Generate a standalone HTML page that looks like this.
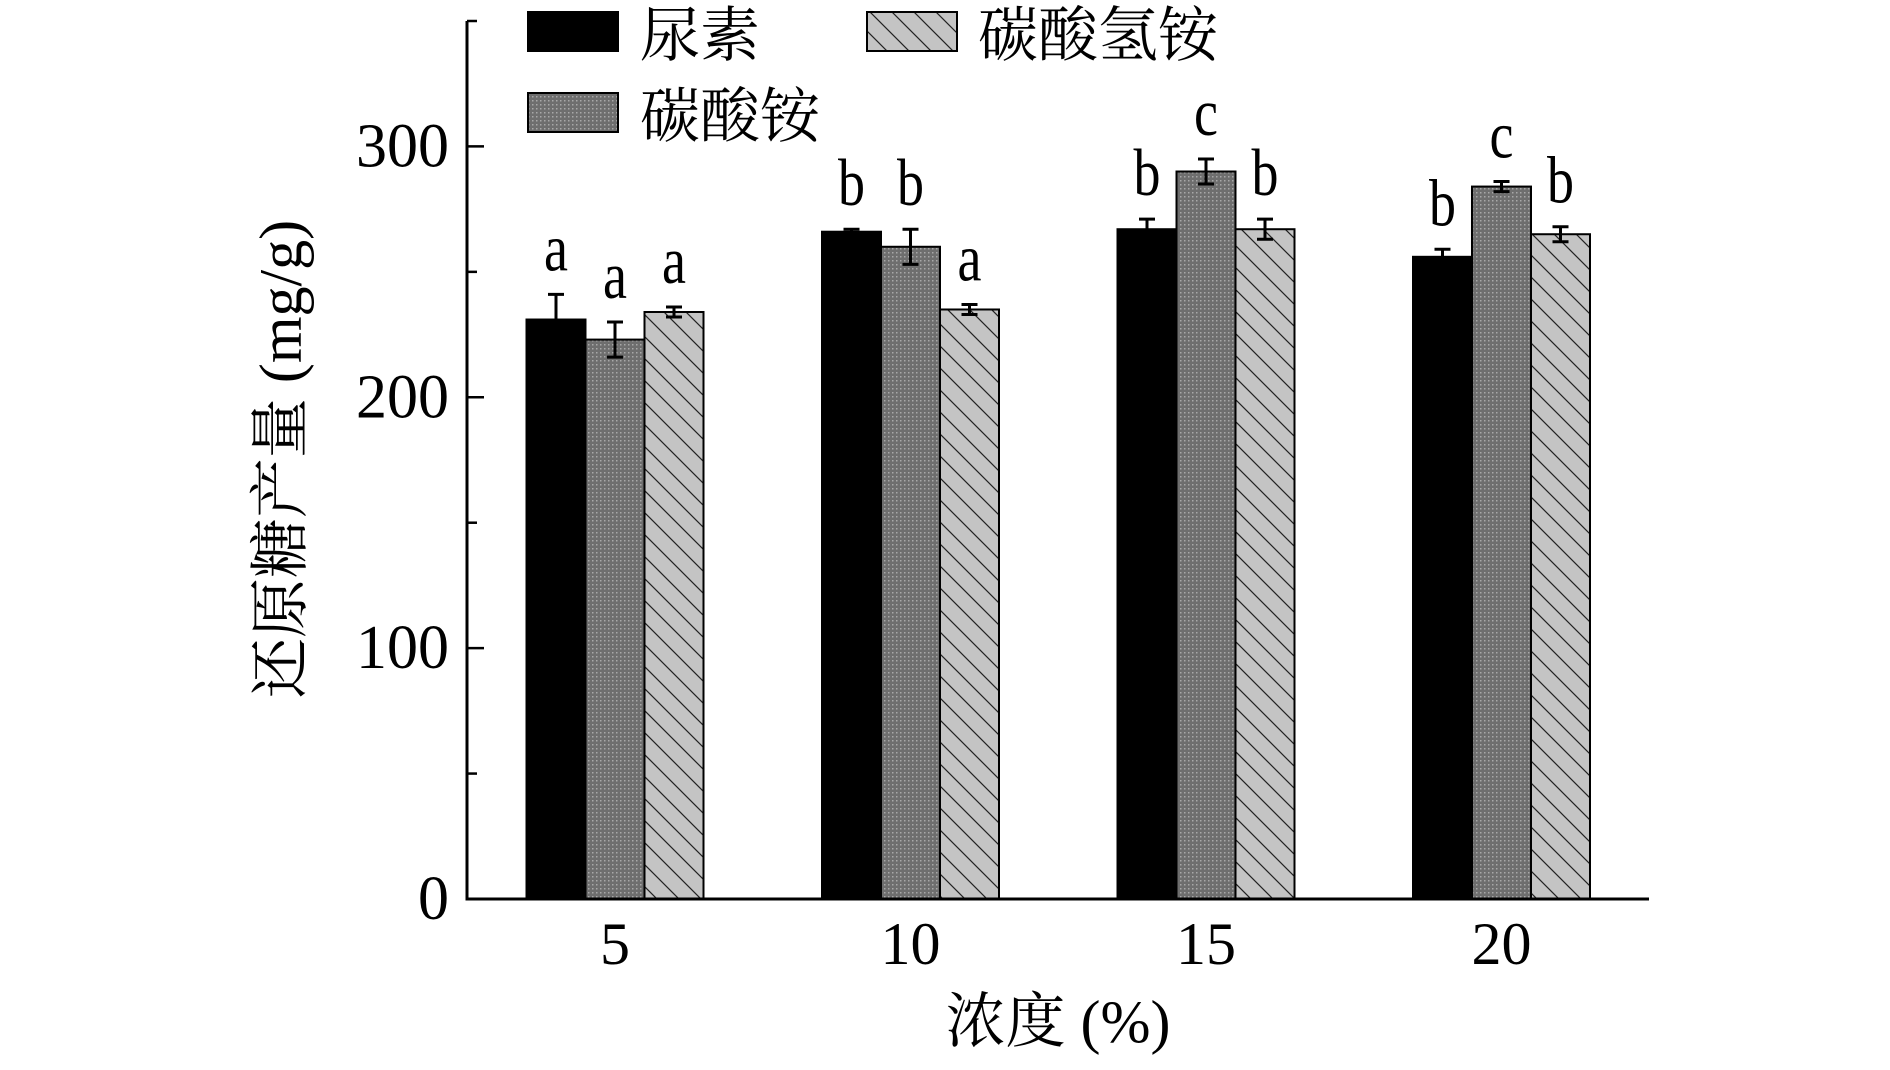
<!DOCTYPE html>
<html><head><meta charset="utf-8"><style>
html,body{margin:0;padding:0;background:#fff}
svg text{font-family:"Liberation Serif","Noto Serif CJK SC",serif;fill:#000}
</style></head><body>
<svg id="chart" width="1890" height="1065" viewBox="0 0 1890 1065" xmlns="http://www.w3.org/2000/svg">
<defs>
<pattern id="dots" width="4" height="4" patternUnits="userSpaceOnUse"><rect width="4" height="4" fill="#6e6e6e"/><rect x="0" y="0" width="1.5" height="1.5" fill="#a8a8a8"/></pattern>
<pattern id="hatch" width="22" height="22" patternUnits="userSpaceOnUse"><rect width="22" height="22" fill="#c4c4c4"/><path d="M0,0 L22,22 M-11,11 L11,33 M11,-11 L33,11" stroke="#222" stroke-width="1.2"/></pattern>
</defs>
<g id="plot"></g>
</svg>
<script>
const categories = ["5","10","15","20"];
const seriesNames = ["尿素","碳酸铵","碳酸氢铵"];
const urea = [231,266,267,256];
const ammCarb = [223,260,290,284];
const ammBicarb = [234,235,267,265];
const ureaErr = [10,1,4,3];
const ammCarbErr = [7,7,5,2];
const ammBicarbErr = [2,2,4,3];
const ureaLetters = ["a","b","b","b"];
const ammCarbLetters = ["a","b","c","c"];
const ammBicarbLetters = ["a","a","b","b"];
const yTicks = [0,100,200,300];

const NS="http://www.w3.org/2000/svg";
const g=document.getElementById('plot');
const X0=467, X1=1649, Y0=899, YMAX=350, YTOP=21;
const y=v=>Y0-(v/YMAX)*(Y0-YTOP);
const groupCenter=i=>615+i*295.5;
const BW=59;
function mk(tag,attrs){const e=document.createElementNS(NS,tag);for(const k in attrs)e.setAttribute(k,attrs[k]);g.appendChild(e);return e;}

const series=[
 {vals:urea,err:ureaErr,let:ureaLetters,fill:"#000",name:"urea"},
 {vals:ammCarb,err:ammCarbErr,let:ammCarbLetters,fill:"url(#dots)",name:"ammonium-carbonate"},
 {vals:ammBicarb,err:ammBicarbErr,let:ammBicarbLetters,fill:"url(#hatch)",name:"ammonium-bicarbonate"}
];
series.forEach((s,si)=>{
 categories.forEach((c,ci)=>{
  const x=groupCenter(ci)+(si-1.5)*BW;
  const v=s.vals[ci], e=s.err[ci];
  const r=mk('rect',{x:x,y:y(v),width:BW,height:Y0-y(v),fill:s.fill,stroke:"#000","stroke-width":2});
  
  
  const cx=x+BW/2;
  const eb=mk('path',{d:`M${cx},${y(v+e)}V${y(v-e)}M${cx-8},${y(v+e)}H${cx+8}M${cx-8},${y(v-e)}H${cx+8}`,stroke:"#000","stroke-width":3,fill:"none"});
  
  
  const t=mk('text',{x:cx,y:y(v+e)-24,"text-anchor":"middle","font-size":60,transform:`translate(${cx},0) scale(0.9,1.1) translate(${-cx},0)`});
  t.setAttribute('transform',`translate(${cx},${y(v+e)-24}) scale(0.9,1.12) translate(${-cx},${-(y(v+e)-24)})`);
  t.textContent=s.let[ci];
  
  
 });
});
const ya=mk('line',{x1:X0,y1:YTOP,x2:X0,y2:Y0+1.5,stroke:"#000","stroke-width":3});


const xa=mk('line',{x1:X0-1.5,y1:Y0,x2:X1,y2:Y0,stroke:"#000","stroke-width":3});


for(let v=50;v<=YMAX;v+=100){const m=mk('line',{x1:X0,y1:y(v),x2:X0+10,y2:y(v),stroke:"#000","stroke-width":2.5});

}
yTicks.forEach(v=>{
 const tk=mk('line',{x1:X0,y1:y(v),x2:X0+17,y2:y(v),stroke:"#000","stroke-width":2.5});
 
 
 const t=mk('text',{x:X0-18,y:y(v)+20,"text-anchor":"end","font-size":62});
 t.textContent=v;
 
 
});
categories.forEach((c,ci)=>{
 const t=mk('text',{x:groupCenter(ci),y:964,"text-anchor":"middle","font-size":60});
 t.textContent=c;
 
 
});
const xt=mk('text',{x:1058,y:1042,"text-anchor":"middle","font-size":60});
xt.textContent="浓度 (%)";


const yt=mk('text',{x:0,y:0,"text-anchor":"middle","font-size":60,transform:"translate(301,459) rotate(-90)"});
yt.textContent="还原糖产量 (mg/g)";


const legPos=[[528,12,640],[528,93,640],[867,12,978]];
series.forEach((s,si)=>{
 const [lx,ly,tx]=legPos[si];
 const r=mk('rect',{x:lx,y:ly,width:90,height:39,fill:s.fill,stroke:"#000","stroke-width":2});
 
 
 const t=mk('text',{x:tx,y:ly+44,"font-size":60});
 t.textContent=seriesNames[si];
 
 
});
</script>
</body></html>
